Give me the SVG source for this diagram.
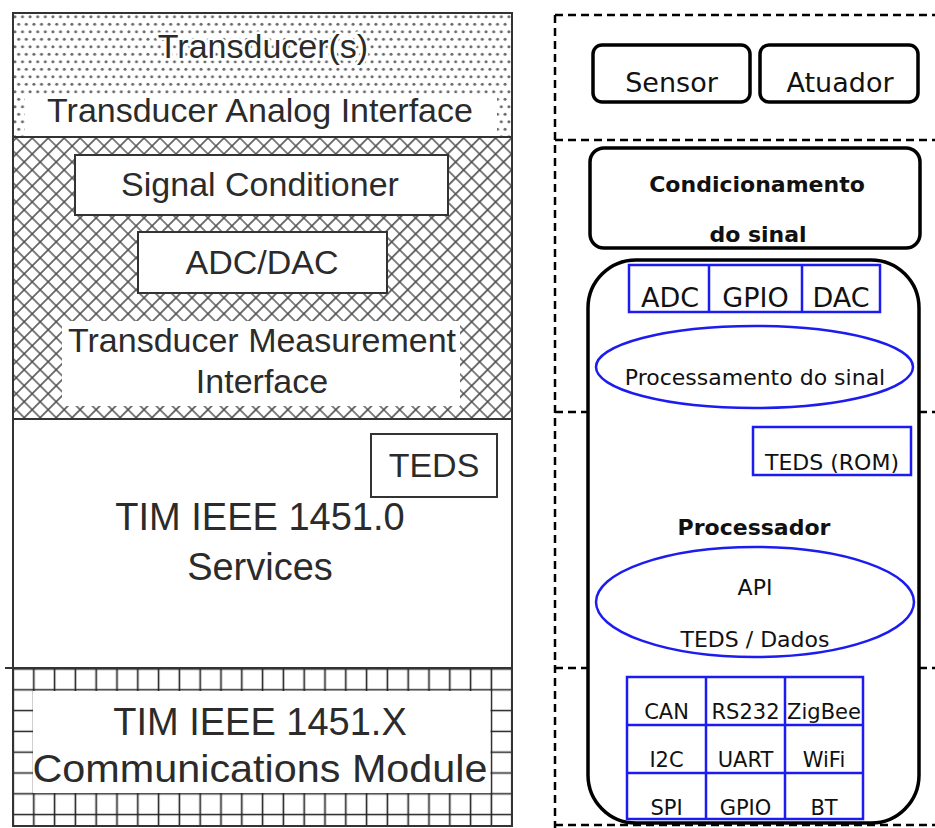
<svg xmlns="http://www.w3.org/2000/svg" width="935" height="828" viewBox="0 0 935 828">
  <defs>
    <!-- fine dot screen for the transducer layer -->
    <pattern id="dots" patternUnits="userSpaceOnUse" x="13" y="13" width="7.6" height="15">
      <circle cx="1.9" cy="3.75" r="1.5" fill="#6a6a6a"/>
      <circle cx="5.7" cy="11.25" r="1.5" fill="#6a6a6a"/>
    </pattern>
    <!-- diagonal cross-hatch for the measurement layer -->
    <pattern id="xhatch" patternUnits="userSpaceOnUse" x="13" y="137" width="11.3" height="11.3" patternTransform="rotate(45)">
      <path d="M0 5.65H11.3M5.65 0V11.3" stroke="#505050" stroke-width="1.6" fill="none"/>
    </pattern>
    <!-- square brick grid for the communications layer -->
    <pattern id="grid" patternUnits="userSpaceOnUse" x="2.6" y="658.6" width="20.8" height="20.8">
      <path d="M0 10.4H20.8M10.4 0V20.8" stroke="#222" stroke-width="1.6" fill="none"/>
    </pattern>
  </defs>
  <style>
    .lt { font-family: "Liberation Sans", Arial, sans-serif; fill: #2b2b2b; text-anchor: middle; }
    .halo { stroke: #fff; stroke-width: 5; paint-order: stroke; stroke-linejoin: round; }
    .lbox { fill: #fff; stroke: #333; stroke-width: 2; }
    .rt { font-family: "DejaVu Sans", Verdana, sans-serif; fill: #111; text-anchor: middle; }
    .b { font-weight: bold; }
    .blk { fill: #fff; stroke: #000; stroke-width: 3.5; }
    .blue { fill: none; stroke: #1c1cf0; stroke-width: 2.5; }
    .dash { fill: none; stroke: #000; stroke-width: 2.5; stroke-dasharray: 8 5; }
  </style>

  <rect width="935" height="828" fill="#fff"/>

  <!-- ===== IEEE 1451 layered stack ===== -->
  <g id="transducers">
    <rect x="13" y="13" width="499" height="124" fill="url(#dots)"/>
    <rect x="25" y="95" width="472" height="42" fill="#fff"/>
    <text class="lt halo" x="263" y="58" font-size="34">Transducer(s)</text>
    <text class="lt" x="260" y="122" font-size="34">Transducer Analog Interface</text>
  </g>

  <g id="measurement-interface">
    <rect x="13" y="137" width="499" height="282" fill="url(#xhatch)"/>
    <rect x="62" y="321" width="398" height="85" fill="#fff"/>
    <text class="lt halo" x="262" y="352" font-size="34">Transducer Measurement</text>
    <text class="lt" x="262" y="393" font-size="34">Interface</text>
  </g>

  <g id="signal-conditioner">
    <rect class="lbox" x="75" y="155" width="373" height="60"/>
    <text class="lt" x="260" y="196" font-size="34">Signal Conditioner</text>
  </g>

  <g id="adc-dac">
    <rect class="lbox" x="138" y="232" width="249" height="61"/>
    <text class="lt" x="262" y="274" font-size="34">ADC/DAC</text>
  </g>

  <g id="services">
    <text class="lt" x="260" y="530" font-size="38">TIM IEEE 1451.0</text>
    <text class="lt" x="260" y="580" font-size="38">Services</text>
  </g>

  <g id="teds-left">
    <rect class="lbox" x="371" y="434" width="126" height="63"/>
    <text class="lt" x="434" y="477" font-size="34">TEDS</text>
  </g>

  <g id="comm-module">
    <rect x="13" y="668" width="499" height="158" fill="url(#grid)"/>
    <rect x="33" y="691" width="457.5" height="102" fill="#fff"/>
    <text class="lt" x="260" y="735" font-size="38">TIM IEEE 1451.X</text>
    <text class="lt" x="260" y="782" font-size="38" textLength="455" lengthAdjust="spacingAndGlyphs">Communications Module</text>
  </g>

  <g id="stack-frame" fill="none" stroke="#333" stroke-width="2">
    <rect x="13" y="13" width="499" height="813"/>
    <path d="M13 137H512M13 419H512M5 668H512"/>
  </g>

  <!-- ===== hardware mapping ===== -->
  <g id="layer-guides">
    <path class="dash" d="M555 15H935M555 140H935M555 412H935M555 668H935M555 825H935M555 15V828"/>
  </g>

  <g id="sensor">
    <rect class="blk" x="593" y="45" width="157" height="57" rx="9"/>
    <text class="rt" x="671.5" y="92" font-size="27">Sensor</text>
  </g>

  <g id="atuador">
    <rect class="blk" x="760" y="45" width="158" height="57" rx="9"/>
    <text class="rt" x="840" y="92" font-size="27">Atuador</text>
  </g>

  <g id="condicionamento">
    <rect class="blk" x="590" y="148" width="330" height="100" rx="14" stroke-width="4"/>
    <text class="rt b" x="757" y="192" font-size="22">Condicionamento</text>
    <text class="rt b" x="758" y="242" font-size="22">do sinal</text>
  </g>

  <g id="processador">
    <rect class="blk" x="588" y="260" width="331" height="563" rx="48" stroke-width="4" fill="none"/>
    <text class="rt b" x="754" y="535" font-size="22">Processador</text>
  </g>

  <g id="io-ports">
    <rect class="blue" x="629" y="265" width="251" height="47"/>
    <path class="blue" d="M709 265V312M802 265V312"/>
    <text class="rt" x="670" y="307" font-size="27">ADC</text>
    <text class="rt" x="755.5" y="307" font-size="27">GPIO</text>
    <text class="rt" x="841" y="307" font-size="27">DAC</text>
  </g>

  <g id="processamento">
    <ellipse class="blue" cx="754.5" cy="367" rx="158.5" ry="41"/>
    <text class="rt" x="755" y="385" font-size="22">Processamento do sinal</text>
  </g>

  <g id="teds-rom">
    <rect class="blue" x="753" y="427" width="158" height="48"/>
    <text class="rt" x="832" y="470" font-size="22">TEDS (ROM)</text>
  </g>

  <g id="api">
    <ellipse class="blue" cx="755" cy="602" rx="159" ry="55"/>
    <text class="rt" x="755" y="595" font-size="22">API</text>
    <text class="rt" x="755" y="647" font-size="22">TEDS / Dados</text>
  </g>

  <g id="interfaces">
    <rect class="blue" x="627" y="677" width="236" height="142"/>
    <path class="blue" d="M706 677V819M785 677V819M627 725H863M627 773H863"/>
    <g font-size="21">
      <text class="rt" x="666.5" y="719">CAN</text>
      <text class="rt" x="745.5" y="719">RS232</text>
      <text class="rt" x="824" y="719">ZigBee</text>
      <text class="rt" x="666.5" y="767">I2C</text>
      <text class="rt" x="745.5" y="767">UART</text>
      <text class="rt" x="824" y="767">WiFi</text>
      <text class="rt" x="666.5" y="815">SPI</text>
      <text class="rt" x="745.5" y="815">GPIO</text>
      <text class="rt" x="824" y="815">BT</text>
    </g>
  </g>
</svg>
